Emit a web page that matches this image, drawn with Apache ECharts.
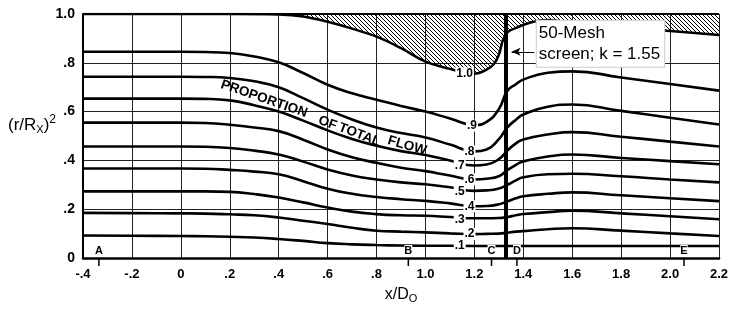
<!DOCTYPE html>
<html>
<head>
<meta charset="utf-8">
<script src="https://cdn.jsdelivr.net/npm/echarts@6/dist/echarts.min.js"></script>
<style>
html, body { margin: 0; padding: 0; background: #fff; }
#chart { width: 733px; height: 309px; }
</style>
</head>
<body>
<div id="chart"></div>
<script>
// sample stations along the duct (x/D0)
var xPos = [-0.4, -0.2, 0, 0.1, 0.2, 0.3, 0.4, 0.5, 0.6, 0.7, 0.8, 0.9, 1.0, 1.1, 1.2, 1.25, 1.3, 1.335, 1.37, 1.4, 1.5, 1.6, 1.8, 2.0, 2.2];

// (r/Rx)^2 of each stream line, proportion of total flow .1 ... .9
var flow10 = [0.092, 0.091, 0.09, 0.089, 0.087, 0.084, 0.078, 0.07, 0.061, 0.056, 0.053, 0.051, 0.05, 0.05, 0.049, 0.049, 0.049, 0.049, 0.049, 0.049, 0.049, 0.049, 0.049, 0.049, 0.049];
var flow20 = [0.185, 0.184, 0.183, 0.182, 0.179, 0.175, 0.166, 0.153, 0.139, 0.124, 0.112, 0.108, 0.105, 0.101, 0.098, 0.099, 0.1, 0.104, 0.108, 0.11, 0.118, 0.122, 0.112, 0.101, 0.09];
var flow30 = [0.273, 0.273, 0.273, 0.273, 0.271, 0.262, 0.248, 0.228, 0.207, 0.19, 0.18, 0.175, 0.173, 0.168, 0.163, 0.163, 0.164, 0.168, 0.175, 0.18, 0.188, 0.194, 0.183, 0.171, 0.159];
var flow40 = [0.367, 0.367, 0.367, 0.366, 0.361, 0.354, 0.343, 0.315, 0.284, 0.263, 0.25, 0.241, 0.234, 0.224, 0.212, 0.213, 0.22, 0.232, 0.245, 0.253, 0.263, 0.269, 0.257, 0.245, 0.233];
var flow50 = [0.457, 0.457, 0.457, 0.456, 0.451, 0.44, 0.424, 0.395, 0.363, 0.338, 0.322, 0.31, 0.302, 0.29, 0.275, 0.277, 0.285, 0.30, 0.318, 0.331, 0.343, 0.345, 0.335, 0.322, 0.31];
var flow60 = [0.555, 0.555, 0.555, 0.553, 0.546, 0.535, 0.52, 0.485, 0.445, 0.413, 0.39, 0.37, 0.356, 0.338, 0.322, 0.325, 0.335, 0.36, 0.382, 0.396, 0.416, 0.424, 0.41, 0.397, 0.384];
var flow70 = [0.653, 0.653, 0.653, 0.652, 0.646, 0.626, 0.6, 0.563, 0.523, 0.488, 0.46, 0.438, 0.422, 0.40, 0.379, 0.383, 0.405, 0.44, 0.47, 0.486, 0.506, 0.516, 0.497, 0.477, 0.457];
var flow80 = [0.743, 0.743, 0.743, 0.742, 0.738, 0.724, 0.70, 0.655, 0.608, 0.568, 0.535, 0.512, 0.494, 0.465, 0.437, 0.445, 0.487, 0.535, 0.567, 0.588, 0.62, 0.629, 0.603, 0.575, 0.547];
var flow90 = [0.845, 0.845, 0.845, 0.844, 0.84, 0.826, 0.802, 0.758, 0.71, 0.675, 0.649, 0.623, 0.60, 0.572, 0.545, 0.558, 0.61, 0.685, 0.712, 0.731, 0.759, 0.765, 0.74, 0.713, 0.686];

// duct wall (hatched above)
var wallX = [-0.4, 0.2, 0.4, 0.5, 0.6, 0.7, 0.8, 0.9, 1.0, 1.1, 1.15, 1.2, 1.25, 1.28, 1.3, 1.317, 1.335, 1.37, 1.43, 1.5, 1.6, 1.8, 2.0, 2.2];
var wallY = [1.0, 1.0, 0.998, 0.99, 0.968, 0.94, 0.907, 0.86, 0.805, 0.775, 0.762, 0.755, 0.772, 0.795, 0.833, 0.894, 0.925, 0.943, 0.965, 0.975, 0.963, 0.946, 0.93, 0.914];

var screenX = 1.335;

// stream line labels
var flowLabels = ['.1', '.2', '.3', '.4', '.5', '.6', '.7', '.8', '.9', '1.0'];
var flowLabelX = [1.14, 1.18, 1.14, 1.18, 1.14, 1.18, 1.14, 1.18, 1.19, 1.16];
var flowLabelY = [0.049, 0.098, 0.159, 0.212, 0.273, 0.322, 0.379, 0.437, 0.543, 0.757];

// words of the caption running between the .8 and .7 lines
var captionWords = ['PROPORTION', 'OF', 'TOTAL', 'FLOW'];
var captionX = [0.34, 0.6, 0.73, 0.925];
var captionY = [0.652, 0.553, 0.505, 0.46];
var captionTilt = [19, 21, 21, 16];

// measuring stations
var stationNames = ['A', 'B', 'C', 'D', 'E'];
var stationX = [-0.335, 0.93, 1.27, 1.374, 2.057];

// tick labels
var xTicks = [-0.4, -0.2, 0, 0.2, 0.4, 0.6, 0.8, 1.0, 1.2, 1.4, 1.6, 1.8, 2.0, 2.2];
var xTickLabels = ['-.4', '-.2', '0', '.2', '.4', '.6', '.8', '1.0', '1.2', '1.4', '1.6', '1.8', '2.0', '2.2'];
var yTicks = [0, 0.2, 0.4, 0.6, 0.8, 1.0];
var yTickLabels = ['0', '.2', '.4', '.6', '.8', '1.0'];

var FONT = 'Liberation Sans';

function tickFmt(ticks, labels) {
    return function (v) {
        for (var i = 0; i < ticks.length; i++) {
            if (Math.abs(ticks[i] - v) < 1e-6) return labels[i];
        }
        return '';
    };
}

function zip(xs, ys) {
    return xs.map(function (x, i) { return [x, ys[i]]; });
}

// hatch pattern for the wall
var hatch = document.createElement('canvas');
hatch.width = 4; hatch.height = 4;
var hctx = hatch.getContext('2d');
hctx.strokeStyle = '#000';
hctx.lineWidth = 1;
hctx.beginPath();
hctx.moveTo(-1, -1); hctx.lineTo(5, 5);
hctx.moveTo(-1, 3); hctx.lineTo(1, 5);
hctx.moveTo(3, -1); hctx.lineTo(5, 1);
hctx.stroke();

var flows = [flow10, flow20, flow30, flow40, flow50, flow60, flow70, flow80, flow90];

var series = flows.map(function (f, i) {
    return {
        type: 'line',
        name: 'flow' + (i + 1),
        data: zip(xPos, f),
        smooth: 0.5,
        symbol: 'none',
        lineStyle: { color: '#000', width: 2.6 },
        z: 3
    };
});

series.push({
    type: 'line',
    name: 'wall',
    data: zip(wallX, wallY),
    smooth: 0.4,
    symbol: 'none',
    lineStyle: { color: '#000', width: 2.5 },
    areaStyle: { origin: 'end', color: { image: hatch, repeat: 'repeat' }, opacity: 1 },
    z: 2,
    markLine: {
        silent: true,
        symbol: 'none',
        label: { show: false },
        data: [
            { xAxis: screenX, lineStyle: { color: '#000', width: 4, type: 'solid' } },
            { yAxis: 1.0, lineStyle: { color: '#000', width: 2, type: 'solid' } },
            [
                { coord: [1.445, 0.845], symbol: 'none' },
                { coord: [1.352, 0.845], symbol: 'arrow', symbolSize: [6, 9] }
            ]
        ],
        lineStyle: { color: '#000', width: 1, type: 'solid' }
    }
});

// labels on the stream lines
series.push({
    type: 'custom',
    name: 'flowLabels',
    data: zip(flowLabelX, flowLabelY),
    z: 10,
    renderItem: function (params, api) {
        var p = api.coord([api.value(0), api.value(1)]);
        return {
            type: 'text',
            x: p[0], y: p[1],
            style: {
                text: flowLabels[params.dataIndex],
                fontFamily: FONT, fontWeight: 'bold', fontSize: 12,
                fill: '#000', align: 'center', verticalAlign: 'middle',
                backgroundColor: '#fff', padding: [0, 1, 0, 1]
            }
        };
    }
});

// caption along the stream lines
series.push({
    type: 'custom',
    name: 'caption',
    data: zip(captionX, captionY),
    z: 10,
    renderItem: function (params, api) {
        var p = api.coord([api.value(0), api.value(1)]);
        return {
            type: 'text',
            x: p[0], y: p[1],
            rotation: -captionTilt[params.dataIndex] * Math.PI / 180,
            style: {
                text: captionWords[params.dataIndex],
                fontFamily: FONT, fontWeight: 'bold', fontSize: 13.5,
                fill: '#000', align: 'center', verticalAlign: 'middle'
            }
        };
    }
});

// station letters with ticks below the axis
series.push({
    type: 'custom',
    name: 'stations',
    data: stationX.map(function (x) { return [x, 0]; }),
    z: 10,
    renderItem: function (params, api) {
        var p = api.coord([api.value(0), api.value(1)]);
        return {
            type: 'group',
            children: [
                {
                    type: 'text', x: p[0], y: p[1] - 2,
                    style: {
                        text: stationNames[params.dataIndex],
                        fontFamily: FONT, fontWeight: 'bold', fontSize: 11,
                        fill: '#000', align: 'center', verticalAlign: 'bottom',
                        backgroundColor: '#fff'
                    }
                },
                {
                    type: 'line',
                    shape: { x1: p[0], y1: p[1], x2: p[0], y2: p[1] + 8 },
                    style: { stroke: '#000', lineWidth: 1.5 }
                }
            ]
        };
    }
});

// screen note
series.push({
    type: 'custom',
    name: 'note',
    data: [[1.455, 0.878]],
    z: 10,
    renderItem: function (params, api) {
        var p = api.coord([api.value(0), api.value(1)]);
        return {
            type: 'text', x: p[0], y: p[1],
            style: {
                text: '50-Mesh\nscreen; k = 1.55',
                fontFamily: FONT, fontSize: 17, lineHeight: 21,
                fill: '#000', align: 'left', verticalAlign: 'middle',
                backgroundColor: '#fff', padding: [2, 4, 2, 2],
                borderColor: '#ccc', borderWidth: 1, borderType: 'dotted'
            }
        };
    }
});

var chart = echarts.init(document.getElementById('chart'), null, { renderer: 'canvas' });
chart.setOption({
    animation: false,
    backgroundColor: '#fff',
    grid: { left: 83, right: 14, top: 14, bottom: 50 },
    xAxis: {
        type: 'value', min: -0.4, max: 2.2, interval: 0.2,
        axisLine: { show: true, onZero: false, lineStyle: { color: '#000', width: 2.5 } },
        axisTick: { show: false },
        splitLine: { show: true, lineStyle: { color: '#222', width: 1 } },
        axisLabel: {
            formatter: tickFmt(xTicks, xTickLabels),
            color: '#000', fontFamily: FONT, fontWeight: 'bold', fontSize: 13, margin: 10
        },
        name: 'x/D{s|O}',
        nameLocation: 'middle',
        nameGap: 27,
        nameTextStyle: {
            color: '#000', fontFamily: FONT, fontSize: 16,
            rich: { s: { fontSize: 11, fontFamily: FONT, color: '#000', padding: [8, 0, 0, 0] } }
        }
    },
    yAxis: {
        type: 'value', min: 0, max: 1, interval: 0.2,
        axisLine: { show: true, onZero: false, lineStyle: { color: '#000', width: 2 } },
        axisTick: { show: false },
        splitLine: { show: true, lineStyle: { color: '#222', width: 1 } },
        axisLabel: {
            formatter: tickFmt(yTicks, yTickLabels),
            color: '#000', fontFamily: FONT, fontWeight: 'bold', fontSize: 14, margin: 8
        }
    },
    graphic: [{
        type: 'text',
        left: 8, top: 114,
        style: {
            text: '(r/R{sub|X}){sup|2}',
            fontFamily: FONT, fontSize: 17, fill: '#000',
            rich: {
                sub: { fontSize: 11, fontFamily: FONT, padding: [9, 0, 0, 0] },
                sup: { fontSize: 12, fontFamily: FONT, padding: [0, 0, 10, 0] }
            }
        }
    }],
    series: series
});
</script>
</body>
</html>
